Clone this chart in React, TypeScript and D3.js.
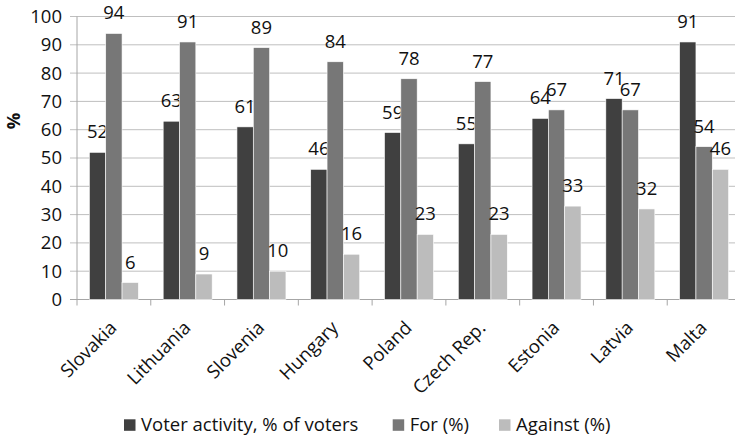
import React, { useEffect, useRef } from "react";
import * as d3 from "d3";

const categories = ["Slovakia", "Lithuania", "Slovenia", "Hungary", "Poland", "Czech Rep.", "Estonia", "Latvia", "Malta"];
const voterActivity = [52, 63, 61, 46, 59, 55, 64, 71, 91];
const forValues = [94, 91, 89, 84, 78, 77, 67, 67, 54];
const againstValues = [6, 9, 10, 16, 23, 23, 33, 32, 46];
const seriesNames = ["Voter activity, % of voters", "For (%)", "Against (%)"];
const seriesColors = ["#404040", "#777777", "#bcbcbc"];
const yTicks = [0, 10, 20, 30, 40, 50, 60, 70, 80, 90, 100];

const W = 735;
const H = 439;
const FONT = "'Open Sans', 'DejaVu Sans', sans-serif";
const FS = 18.5;

export default function App() {
  const ref = useRef<SVGSVGElement | null>(null);

  useEffect(() => {
    const svg = d3.select(ref.current);
    svg.selectAll("*").remove();

    const left = 77;
    const right = 741;
    const top = 16.5;
    const bottom = 299.5;

    const x = d3.scaleBand<string>().domain(categories).range([left, right]).paddingInner(0).paddingOuter(0);
    const y = d3.scaleLinear().domain([0, 100]).range([bottom, top]);
    const cw = x.bandwidth();
    const groupW = cw * 0.664;
    const inner = d3.scaleBand<number>().domain([0, 1, 2]).range([0, groupW]);

    const g = svg.append("g");
    g.selectAll("line.grid")
      .data(yTicks.filter((t) => t !== 0))
      .join("line")
      .attr("x1", left - 7)
      .attr("x2", right)
      .attr("y1", (d) => y(d))
      .attr("y2", (d) => y(d))
      .attr("stroke", "#bfbfbf")
      .attr("stroke-width", 1);

    g.append("line")
      .attr("x1", left)
      .attr("x2", left)
      .attr("y1", top)
      .attr("y2", bottom)
      .attr("stroke", "#a6a6a6");

    g.append("line")
      .attr("x1", left - 7)
      .attr("x2", right)
      .attr("y1", bottom)
      .attr("y2", bottom)
      .attr("stroke", "#a6a6a6");

    const bounds = d3.range(categories.length + 1).map((i) => left + i * cw);
    g.selectAll("line.xt")
      .data(bounds)
      .join("line")
      .attr("x1", (d) => d)
      .attr("x2", (d) => d)
      .attr("y1", bottom)
      .attr("y2", bottom + 6)
      .attr("stroke", "#a6a6a6");

    g.selectAll("text.yt")
      .data(yTicks)
      .join("text")
      .attr("x", 62)
      .attr("y", (d) => y(d))
      .attr("dy", "0.35em")
      .attr("text-anchor", "end")
      .attr("font-family", FONT)
      .attr("font-size", FS)
      .attr("fill", "#111")
      .text((d) => String(d));

    g.append("text")
      .attr("transform", "translate(20,121) rotate(-90)")
      .attr("text-anchor", "middle")
      .attr("font-family", FONT)
      .attr("font-size", FS)
      .attr("font-weight", "bold")
      .attr("fill", "#111")
      .text("%");

    const series = [voterActivity, forValues, againstValues];
    series.forEach((vals, si) => {
      const bx = (i: number) => (x(categories[i]) as number) + (cw - groupW) / 2 + (inner(si) as number);
      g.selectAll(`rect.s${si}`)
        .data(vals)
        .join("rect")
        .attr("x", (_d, i) => bx(i))
        .attr("y", (d) => y(d))
        .attr("width", inner.bandwidth())
        .attr("height", (d) => y(0) - y(d))
        .attr("fill", seriesColors[si])
        .attr("stroke", "#ffffff")
        .attr("stroke-width", 0.6);
      g.selectAll(`text.l${si}`)
        .data(vals)
        .join("text")
        .attr("x", (_d, i) => bx(i) + inner.bandwidth() / 2)
        .attr("y", (d) => y(d) - 14)
        .attr("text-anchor", "middle")
        .attr("font-family", FONT)
        .attr("font-size", FS)
        .attr("fill", "#111")
        .text((d) => String(d));
    });

    g.selectAll("text.xl")
      .data(categories)
      .join("text")
      .attr("transform", (d) => `translate(${(x(d) as number) + cw / 2 + 4},329) rotate(-45)`)
      .attr("text-anchor", "end")
      .attr("font-family", FONT)
      .attr("font-size", FS)
      .attr("fill", "#111")
      .text((d) => d);

    const legendX = [124, 392.7, 499];
    seriesNames.forEach((name, i) => {
      g.append("rect")
        .attr("x", legendX[i])
        .attr("y", 419.3)
        .attr("width", 11.5)
        .attr("height", 11.5)
        .attr("fill", seriesColors[i]);
      g.append("text")
        .attr("x", legendX[i] + 17)
        .attr("y", 430.5)
        .attr("font-family", FONT)
        .attr("font-size", FS)
        .attr("fill", "#111")
        .text(name);
    });
  }, []);

  return (
    <svg
      ref={ref}
      width={W}
      height={H}
      style={{ position: "absolute", left: 0, top: 0, background: "#fff" }}
    />
  );
}
